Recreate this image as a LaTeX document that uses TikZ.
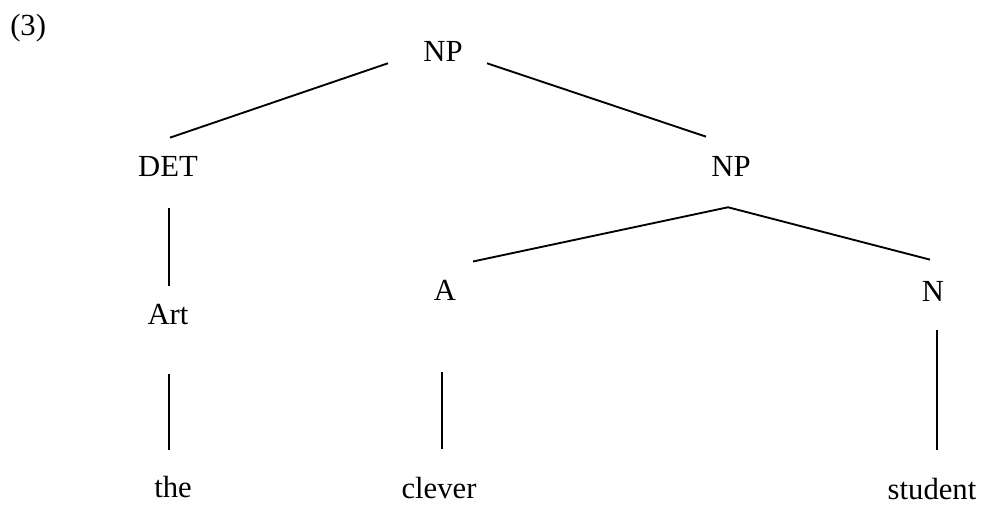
\documentclass[tikz,border=0pt]{standalone}
\usepackage{fontspec}
\setmainfont{Liberation Serif}
\usetikzlibrary{calc}

\begin{document}
\begin{tikzpicture}[x=0.75pt,y=0.75pt,yscale=-1,xscale=1,
  font=\fontsize{23}{27}\selectfont,
  lbl/.style={anchor=base,inner sep=0.75pt},
  branch/.style={line width=1.4pt}]
\useasboundingbox (0,0) rectangle (981,505);

% Text Node
\draw (9,36) node [anchor=base west][inner sep=0.75pt] (ex) {(3)};
% Text Node
\draw (443,62) node [lbl] (root) {NP};
% Text Node
\draw (168,177) node [lbl] (det) {DET};
% Text Node
\draw (731,177) node [lbl] (np) {NP};
% Text Node
\draw (168,325) node [lbl] (art) {Art};
% Text Node
\draw (445,301) node [lbl] (adj) {A};
% Text Node
\draw (933,302) node [lbl] (noun) {N};
% Text Node
\draw (173,497) node [lbl] (the) {the};
% Text Node
\draw (439,498) node [lbl] (clever) {clever};
% Text Node
\draw (932,499) node [lbl] (student) {student};

%Straight Lines
\draw [branch] ($(root.south)+(-55,0)$) -- ($(det.north)+(2,-18)$) ;
\draw [branch] ($(root.south)+(44,0)$) -- ($(np.north)+(-25,-19)$) ;
%Straight Lines
\draw [branch] ($(det.south)+(1,30)$) -- ($(art.north)+(1,-17)$) ;
\draw [branch] ($(art.south)+(1,47)$) -- ($(the.north)+(-4,-24)$) ;
%Straight Lines
\draw [branch] ($(np.south)+(-3,29)$) -- ($(adj.north)+(28,-18)$) ;
\draw [branch] ($(np.south)+(-3,29)$) -- ($(noun.north)+(-3,-21)$) ;
%Straight Lines
\draw [branch] ($(adj.south)+(-3,70)$) -- ($(clever.north)+(3,-26)$) ;
\draw [branch] ($(noun.south)+(4,27)$) -- ($(student.north)+(5,-26)$) ;

\end{tikzpicture}
\end{document}
